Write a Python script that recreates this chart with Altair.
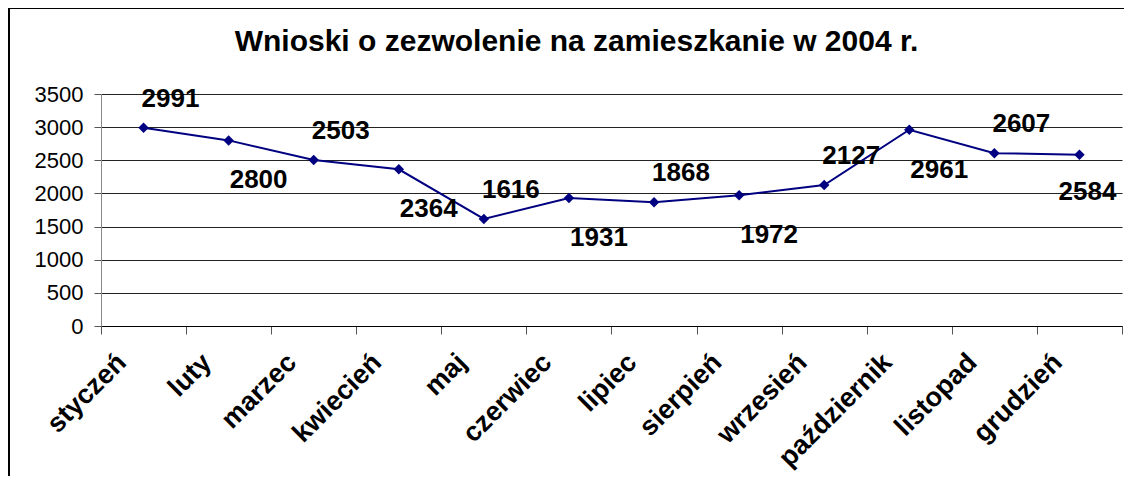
import altair as alt
import pandas as pd

months = ["styczeń", "luty", "marzec", "kwiecień", "maj", "czerwiec",
          "lipiec", "sierpień", "wrzesień", "październik", "listopad", "grudzień"]
values = [2991, 2800, 2503, 2364, 1616, 1931, 1868, 1972, 2127, 2961, 2607, 2584]
y_ticks = [0, 500, 1000, 1500, 2000, 2500, 3000, 3500]
title_text = "Wnioski o zezwolenie na zamieszkanie w 2004 r."

df = pd.DataFrame({"month": months, "value": values, "idx": list(range(len(months)))})

FONT = "Liberation Sans"
NAVY = "#000080"

x_enc = alt.X(
    "month:N", sort=months, title=None,
    scale=alt.Scale(type="band", paddingInner=0, paddingOuter=0),
    axis=alt.Axis(labelAngle=-45, labelFont=FONT, labelFontSize=27, labelFontWeight="bold",
                  labelColor="#000", labelAlign="right", labelBaseline="middle",
                  labelPadding=24, labelOffset=-22, tickBand="extent", tickSize=8,
                  tickColor="#555", domainColor="#000", grid=False, labelLimit=300),
)
y_enc = alt.Y(
    "value:Q", title=None,
    scale=alt.Scale(domain=[0, 3500], nice=False),
    axis=alt.Axis(values=y_ticks, format="d", labelFont=FONT, labelFontSize=22,
                  labelColor="#000", labelPadding=11, tickSize=7, tickColor="#555",
                  domainColor="#888", grid=True, gridColor="#222", gridWidth=1),
)

base = alt.Chart(df).encode(x=x_enc, y=y_enc)

frame = alt.Chart(df).mark_rect(fill=None, stroke="#000", strokeWidth=2).encode(
    x=alt.value(-92), x2=alt.value(1040), y=alt.value(-86), y2=alt.value(420)
)

label_style = dict(font=FONT, fontSize=26, fontWeight="bold", color="#000")

line = base.mark_line(color=NAVY, strokeWidth=2)
pts = base.mark_point(shape="diamond", filled=True, size=110, color=NAVY, opacity=1)
above = base.transform_filter("datum.idx % 2 == 0").mark_text(
    dx=27, dy=-29, **label_style
).encode(text="value:Q")
below = base.transform_filter("datum.idx % 2 == 1 && datum.idx < 11").mark_text(
    dx=30, dy=40, **label_style
).encode(text="value:Q")
below_last = base.transform_filter("datum.idx == 11").mark_text(
    dx=8, dy=37, **label_style
).encode(text="value:Q")

chart = alt.layer(frame, line, pts, above, below, below_last).properties(
    width=1021, height=232,
    padding={"left": 93, "top": 86, "right": 2, "bottom": 150},
    autosize=alt.AutoSizeParams(type="none"),
    title=alt.TitleParams(title_text, font=FONT, fontSize=30, fontWeight="bold",
                          color="#000", anchor="middle", dx=-35, offset=-50),
).configure_view(stroke=None)

chart.save("out.html", embed_options={"renderer": "svg", "actions": False})
